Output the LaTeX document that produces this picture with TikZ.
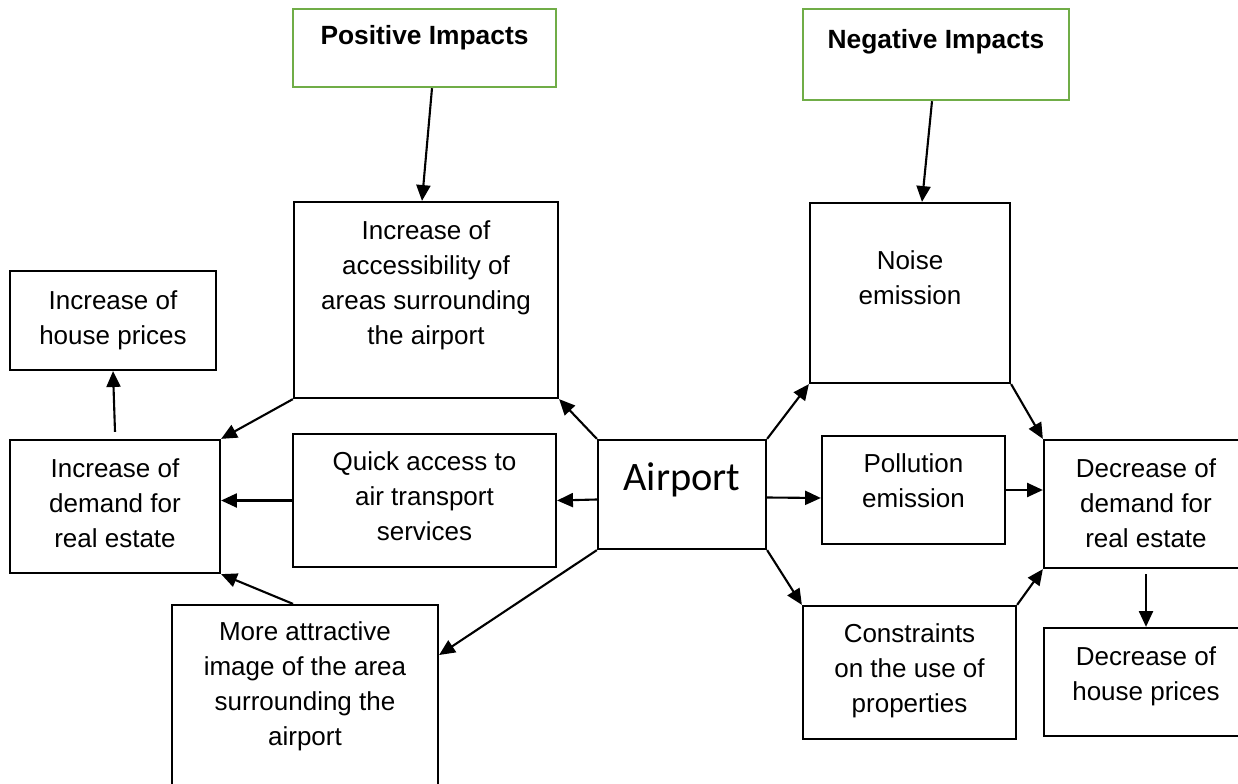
\documentclass[tikz,border=0pt]{standalone}
\usepackage{fontspec}
\setmainfont{Liberation Sans}
\newfontfamily\apfont{Carlito}
\usetikzlibrary{arrows.meta,positioning}
\definecolor{impgreen}{HTML}{70AD47}

\begin{document}
\begin{tikzpicture}[x=0.02cm, y=-0.02cm, >={Triangle[length=9pt,width=8pt]},
    box/.style={draw, line width=1.3pt, inner sep=0pt},
    headbox/.style={draw=impgreen, line width=1.4pt, inner sep=0pt},
    txt/.style={align=center, inner sep=0pt, font=\fontsize{14.8}{20}\selectfont},
    headtxt/.style={align=center, inner sep=0pt, font=\bfseries\fontsize{15}{18}\selectfont},
    arr/.style={->, line width=1.2pt}]
    \useasboundingbox (0,0) rectangle (1238,784);
    \clip (0,0) rectangle (1238,784);
    % Headings
    \node[headbox, minimum width=5.26cm, minimum height=1.56cm] (pos) at (424.5,48) {};
    \node[headtxt, below=0.34cm of pos.north] (pos-t) {Positive Impacts};
    \node[headbox, minimum width=5.32cm, minimum height=1.82cm] (neg) at (936,54.5) {};
    \node[headtxt, below=0.42cm of neg.north] (neg-t) {Negative Impacts};
    % Centre
    \node[box, minimum width=3.36cm, minimum height=2.18cm] (airport) at (682,494.5) {};
    \node[below=0.46cm of airport.north, inner sep=0pt, font=\apfont\fontsize{23}{26}\selectfont] (airport-t) {Airport};
    % Positive side
    \node[box, minimum width=5.28cm, minimum height=3.92cm] (acc) at (426,300) {};
    \node[txt, below=0.38cm of acc.north] (acc-t) {Increase of\\accessibility of\\areas surrounding\\the airport};
    \node[box, minimum width=5.26cm, minimum height=2.66cm] (quick) at (424.5,500.5) {};
    \node[txt, below=0.36cm of quick.north] (quick-t) {Quick access to\\air transport\\services};
    \node[box, minimum width=5.32cm, minimum height=3.9cm] (attr) at (305,702.5) {};
    \node[txt, below=0.34cm of attr.north] (attr-t) {More attractive\\image of the area\\surrounding the\\airport};
    \node[box, minimum width=4.2cm, minimum height=2.66cm] (incdem) at (115,506.5) {};
    \node[txt, below=0.38cm of incdem.north] (incdem-t) {Increase of\\demand for\\real estate};
    \node[box, minimum width=4.12cm, minimum height=1.98cm] (incprice) at (113,320.5) {};
    \node[txt, below=0.4cm of incprice.north] (incprice-t) {Increase of\\house prices};
    % Negative side
    \node[box, minimum width=4.0cm, minimum height=3.6cm] (noise) at (910,293) {};
    \node[txt, below=0.96cm of noise.north] (noise-t) {Noise\\emission};
    \node[box, minimum width=3.66cm, minimum height=2.16cm] (poll) at (913.5,490) {};
    \node[txt, below=0.36cm of poll.north] (poll-t) {Pollution\\emission};
    \node[box, minimum width=4.26cm, minimum height=2.66cm] (constr) at (909.5,672.5) {};
    \node[txt, below=0.36cm of constr.north] (constr-t) {Constraints\\on the use of\\properties};
    \node[box, minimum width=4.08cm, minimum height=2.56cm] (decdem) at (1146,504) {};
    \node[txt, below=0.38cm of decdem.north] (decdem-t) {Decrease of\\demand for\\real estate};
    \node[box, minimum width=4.08cm, minimum height=2.16cm] (decprice) at (1146,682) {};
    \node[txt, below=0.38cm of decprice.north] (decprice-t) {Decrease of\\house prices};
    % Arrows
    \draw[arr] ([xshift=0.15cm]pos.south) -- ([xshift=-0.08cm]acc.north);
    \draw[arr] ([xshift=-0.08cm]neg.south) -- ([xshift=0.24cm]noise.north);
    \draw[arr] (airport.north west) -- (acc.south east);
    \draw[arr] ([yshift=-0.1cm]airport.west) -- (quick.east);
    \draw[arr] (airport.south west) -- ([yshift=0.95cm]attr.east);
    \draw[arr] (acc.south west) -- (incdem.north east);
    \draw[arr] (quick.west) -- (quick.west -| incdem.east);
    \draw[arr] ([xshift=-0.24cm]attr.north) -- (incdem.south east);
    \draw[arr] ([yshift=0.14cm]incdem.north) -- (incprice.south);
    \draw[arr] (airport.north east) -- (noise.south west);
    \draw[arr] ([yshift=-0.06cm]airport.east) -- ([yshift=-0.16cm]poll.west);
    \draw[arr] (airport.south east) -- (constr.north west);
    \draw[arr] (noise.south east) -- (decdem.north west);
    \draw[arr] (poll.east) -- (poll.east -| decdem.west);
    \draw[arr] (constr.north east) -- (decdem.south west);
    \draw[arr] ([yshift=-0.1cm]decdem.south) -- (decprice.north);
\end{tikzpicture}
\end{document}
